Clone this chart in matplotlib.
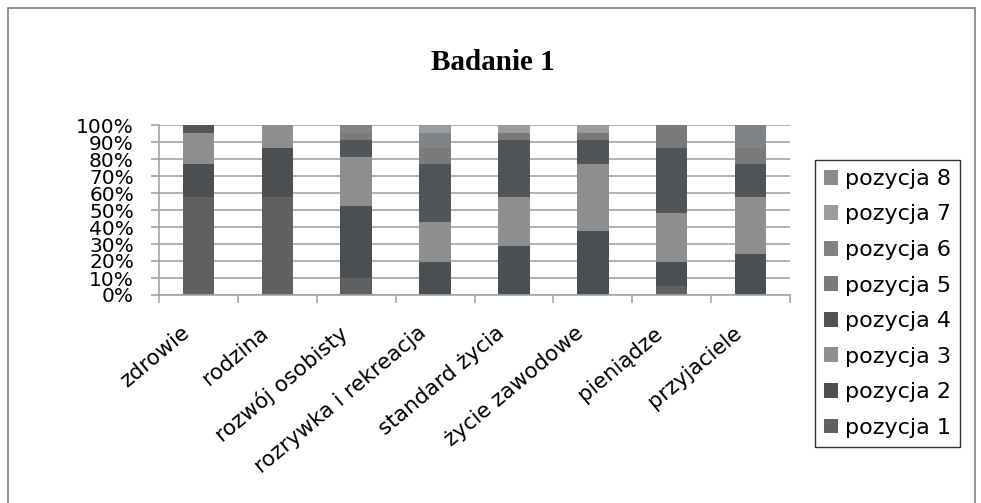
import matplotlib.pyplot as plt
import numpy as np
from matplotlib.patches import Rectangle
from matplotlib.transforms import ScaledTranslation

# Udział odpowiedzi (%) dla każdej pozycji w rankingu
categories = ['zdrowie', 'rodzina', 'rozwój osobisty', 'rozrywka i rekreacja',
              'standard życia', 'życie zawodowe', 'pieniądze', 'przyjaciele']
pozycja_1 = [57.5, 57.5, 9.8, 0.0, 0.0, 0.0, 5.3, 0.0]
pozycja_2 = [19.4, 28.8, 42.6, 19.6, 28.8, 37.8, 14.3, 24.1]
pozycja_3 = [18.2, 13.7, 28.6, 23.5, 28.7, 39.1, 28.8, 33.4]
pozycja_4 = [4.9, 0.0, 10.2, 33.8, 33.7, 14.3, 37.9, 19.4]
pozycja_5 = [0.0, 0.0, 4.3, 9.4, 4.3, 4.3, 13.7, 9.4]
pozycja_6 = [0.0, 0.0, 4.5, 9.2, 0.0, 0.0, 0.0, 13.7]
pozycja_7 = [0.0, 0.0, 0.0, 4.5, 4.5, 4.5, 0.0, 0.0]
pozycja_8 = [0.0, 0.0, 0.0, 0.0, 0.0, 0.0, 0.0, 0.0]

series = [pozycja_1, pozycja_2, pozycja_3, pozycja_4,
          pozycja_5, pozycja_6, pozycja_7, pozycja_8]
names = ['pozycja %d' % (i + 1) for i in range(8)]
colors = ['#606060', '#4b4f51', '#8e8e8e', '#515557',
          '#7a7a7a', '#7f8385', '#9b9d9d', '#8c8c8c']

W, H = 981, 503
fig = plt.figure(figsize=(W / 100, H / 100), dpi=100)
ax = fig.add_axes([159 / W, 1 - 295 / H, (790 - 159) / W, 170 / H])

x = np.arange(len(categories))
bottom = np.zeros(len(categories))
bars = []
for name, values, color in zip(names, series, colors):
    b = ax.bar(x, values, 0.4, bottom=bottom, color=color, label=name,
               linewidth=0, zorder=2)
    bars.append(b)
    bottom += np.array(values)

ax.set_xlim(-0.5, len(categories) - 0.5)
ax.set_ylim(0, 100)

# osie i siatka
grid_color = '#a4a4a4'
ax.set_yticks(range(0, 101, 10))
ax.set_yticklabels(['%d%%' % v for v in range(0, 101, 10)],
                   family='DejaVu Sans', fontsize=14.5)
ax.yaxis.grid(True, color=grid_color, linewidth=1.2, zorder=0)
ax.set_axisbelow(True)
ax.tick_params(axis='y', length=6, width=1.2, color=grid_color, pad=12)

ax.set_xticks(x)
ax.set_xticklabels(categories, rotation=40, ha='right', va='top',
                   rotation_mode='anchor', family='DejaVu Sans', fontsize=15.5)
ax.tick_params(axis='x', which='major', length=0, pad=20)
ax.set_xticks(np.arange(-0.5, len(categories)), minor=True)
ax.tick_params(axis='x', which='minor', length=6, width=1.2, color=grid_color)
shift = ScaledTranslation(-18 / 100, 0, fig.dpi_scale_trans)
for lab in ax.get_xticklabels():
    lab.set_transform(lab.get_transform() + shift)

for side in ['top', 'right']:
    ax.spines[side].set_visible(False)
for side in ['left', 'bottom']:
    ax.spines[side].set_color(grid_color)
    ax.spines[side].set_linewidth(1.2)

fig.text(493 / W, 1 - 62 / H, 'Badanie 1', ha='center', va='center',
         family='Liberation Serif', weight='bold', fontsize=21)

# legenda w odwrotnej kolejności
leg = fig.legend([b for b in bars[::-1]], names[::-1], loc='upper left',
                 bbox_to_anchor=(815 / W, 1 - 160 / H), frameon=True,
                 fancybox=False, edgecolor='black',
                 prop={'family': 'DejaVu Sans', 'size': 16},
                 handlelength=0.65, handleheight=0.65, handletextpad=0.3,
                 labelspacing=0.7, borderpad=0.4, borderaxespad=0)
leg.get_frame().set_linewidth(1.0)

# ramka wokół wykresu
fig.add_artist(Rectangle((8 / W, -0.1), (975 - 8) / W, 1.1 - 8 / H,
                         transform=fig.transFigure, fill=False,
                         edgecolor='#808080', linewidth=1.2))

fig.savefig('out.png', dpi=100)
